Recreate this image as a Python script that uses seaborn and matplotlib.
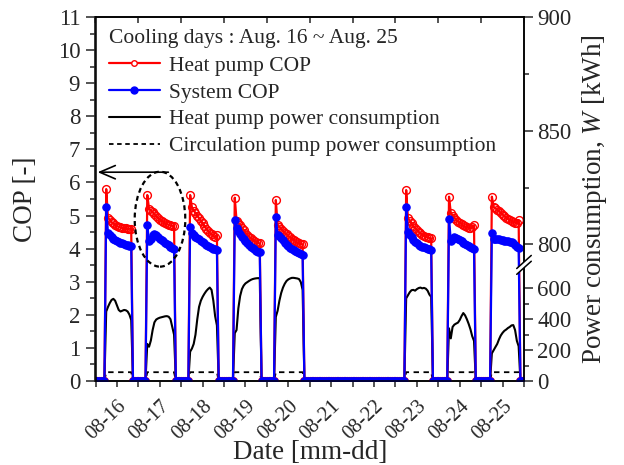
import numpy as np
import pandas as pd
import matplotlib
matplotlib.use("Agg")
import matplotlib.pyplot as plt
import matplotlib.transforms as mtransforms
from matplotlib.patches import Ellipse, Polygon
from matplotlib.lines import Line2D
import seaborn as sns

sns.set_style("ticks")
plt.rcParams["font.family"] = ["Liberation Serif", "DejaVu Serif"]
plt.rcParams["mathtext.fontset"] = "custom"
plt.rcParams["mathtext.rm"] = "Liberation Serif"
plt.rcParams["mathtext.it"] = "Liberation Serif:italic"

# ---------------------------------------------------------------- data
DATE_LABELS = ["08-16", "08-17", "08-18", "08-19", "08-20",
               "08-21", "08-22", "08-23", "08-24", "08-25"]

# operating days (offset from Aug. 16) and first logged hour of operation
OP_DAYS = [0, 1, 2, 3, 4, 7, 8, 9]
START_HOURS = [6, 5, 5, 6, 5, 6, 6, 6]

# hourly heat pump COP during operation
HP_COP = [
    [5.80, 4.92, 4.88, 4.80, 4.76, 4.72, 4.68, 4.66, 4.64, 4.62, 4.62, 4.61, 4.60, 4.60, 4.60],
    [5.62, 5.20, 5.15, 5.10, 5.04, 4.98, 4.93, 4.88, 4.84, 4.80, 4.77, 4.74, 4.72, 4.70, 4.69, 4.68],
    [5.62, 5.25, 5.15, 5.08, 5.00, 4.92, 4.84, 4.76, 4.68, 4.60, 4.54, 4.48, 4.43, 4.38, 4.36, 4.40],
    [5.54, 4.85, 4.78, 4.70, 4.62, 4.55, 4.48, 4.42, 4.36, 4.31, 4.27, 4.23, 4.20, 4.17, 4.16],
    [5.47, 4.72, 4.66, 4.60, 4.54, 4.48, 4.43, 4.38, 4.34, 4.30, 4.26, 4.22, 4.19, 4.16, 4.14, 4.13],
    [5.77, 4.92, 4.84, 4.76, 4.68, 4.62, 4.56, 4.51, 4.46, 4.42, 4.39, 4.36, 4.34, 4.32, 4.31],
    [5.57, 5.08, 5.00, 4.93, 4.87, 4.82, 4.78, 4.74, 4.70, 4.67, 4.64, 4.62, 4.62, 4.65, 4.70],
    [5.57, 5.26, 5.22, 5.18, 5.13, 5.08, 5.03, 4.98, 4.94, 4.90, 4.86, 4.83, 4.80, 4.78, 4.78, 4.86],
]

# hourly system COP during operation
SYS_COP = [
    [5.25, 4.46, 4.42, 4.36, 4.30, 4.25, 4.22, 4.20, 4.18, 4.16, 4.14, 4.12, 4.10, 4.09, 4.08],
    [4.72, 4.22, 4.30, 4.40, 4.44, 4.40, 4.35, 4.30, 4.26, 4.22, 4.18, 4.14, 4.10, 4.06, 4.02, 4.00],
    [4.66, 4.46, 4.40, 4.36, 4.32, 4.28, 4.24, 4.20, 4.16, 4.12, 4.09, 4.06, 4.03, 4.00, 3.98, 3.96],
    [4.86, 4.62, 4.52, 4.44, 4.36, 4.28, 4.22, 4.16, 4.11, 4.06, 4.02, 3.98, 3.94, 3.91, 3.89],
    [4.96, 4.42, 4.38, 4.32, 4.25, 4.18, 4.12, 4.07, 4.02, 3.98, 3.95, 3.92, 3.89, 3.86, 3.83, 3.81],
    [5.25, 4.50, 4.42, 4.34, 4.27, 4.21, 4.16, 4.12, 4.09, 4.06, 4.04, 4.02, 4.00, 3.98, 3.96],
    [4.91, 4.24, 4.30, 4.34, 4.33, 4.30, 4.26, 4.22, 4.18, 4.14, 4.10, 4.07, 4.04, 4.02, 4.00],
    [4.48, 4.30, 4.28, 4.30, 4.29, 4.27, 4.25, 4.24, 4.23, 4.22, 4.21, 4.20, 4.16, 4.10, 4.05, 4.01],
]

# hourly heat pump power consumption [kWh]
HP_POWER = [
    [450, 480, 505, 525, 532, 520, 490, 460, 450, 455, 460, 458, 450, 430, 395],
    [240, 222, 262, 330, 380, 398, 405, 410, 413, 416, 419, 420, 416, 400, 350, 300],
    [190, 210, 240, 300, 400, 480, 520, 545, 565, 582, 595, 605, 590, 520, 420, 360],
    [310, 330, 470, 550, 595, 618, 632, 640, 648, 655, 660, 663, 665, 666, 666],
    [415, 455, 520, 570, 605, 630, 648, 658, 664, 668, 668, 666, 664, 660, 640, 590],
    [535, 555, 575, 588, 590, 585, 595, 602, 605, 600, 603, 598, 585, 560, 545],
    [341, 276, 350, 365, 372, 378, 395, 420, 440, 425, 400, 370, 335, 290, 260],
    [179, 200, 220, 240, 270, 295, 312, 325, 333, 343, 350, 360, 362, 330, 260, 225],
]

# circulation pump power consumption while running [kWh]
CIRC_POWER = [57, 57, 57, 57, 57, 57, 57, 57]

LEGEND_TITLE = "Cooling days : Aug. 16 ~ Aug. 25"
SERIES_NAMES = ["Heat pump COP", "System COP",
                "Heat pump power consumption", "Circulation pump power consumption"]

N_HOURS = 240  # hourly log, Aug. 16 00:00 to Aug. 26 00:00


def hourly_log(values_per_day):
    """Hourly record over the whole period; zero while the plant is off."""
    log = np.zeros(N_HOURS + 1)
    for day, h0, vals in zip(OP_DAYS, START_HOURS, values_per_day):
        i0 = day * 24 + h0
        log[i0:i0 + len(vals)] = vals
    return log


df = pd.DataFrame({
    "t": np.arange(N_HOURS + 1) / 24.0,
    "hp_cop": hourly_log(HP_COP),
    "sys_cop": hourly_log(SYS_COP),
    "hp_power": hourly_log(HP_POWER),
    "circ_power": hourly_log([[c] * len(p) for c, p in zip(CIRC_POWER, HP_POWER)]),
})

# ---------------------------------------------------------------- figure
fig = plt.figure(figsize=(6.24, 4.65), dpi=100)
ax = fig.add_axes([95.5 / 624, 1 - 381 / 465, 428.5 / 624, 364 / 465])
ax2 = ax.twinx()
ax.set_zorder(ax2.get_zorder() + 1)
ax.patch.set_visible(False)

# power consumption on the right (broken) axis
sns.lineplot(data=df, x="t", y="hp_power", ax=ax2, color="black", lw=1.5,
             estimator=None, sort=False)
sns.lineplot(data=df, x="t", y="circ_power", ax=ax2, color="black", lw=1.3,
             ls=(0, (3, 2.5)), estimator=None, sort=False)

# COP on the left axis
sns.lineplot(data=df, x="t", y="hp_cop", ax=ax, color="red", lw=1.6,
             marker="o", ms=5.6, mfc="none", mec="red", mew=1.0,
             estimator=None, sort=False)
sns.lineplot(data=df, x="t", y="sys_cop", ax=ax, color="blue", lw=1.6,
             marker="o", ms=5.3, mfc="blue", mec="blue", mew=0.8,
             estimator=None, sort=False)

# left axis
ax.set_ylim(0, 11)
ax.set_yticks(np.arange(0, 12))
ax.set_yticks(np.arange(0.5, 11, 1), minor=True)
ax.set_ylabel("COP [-]", fontsize=19.5, labelpad=14)

# bottom axis
ax.set_xlim(0, 10)
ax.set_xticks(np.arange(0, 11))
ax.set_xticklabels(DATE_LABELS + [""])
ax.set_xticks(np.arange(0.5, 10, 1), minor=True)
ax.set_xlabel("Date [mm-dd]", fontsize=19.5, labelpad=-2)
ax.tick_params(axis="y", which="major", direction="out", length=7, width=1.1,
               labelsize=16.5, pad=4)
ax.tick_params(axis="y", which="minor", direction="out", length=4, width=1.1)
ax.tick_params(axis="x", which="both", direction="out", length=4.5, width=1.1,
               labelsize=14.8, pad=6.5)
shift = mtransforms.ScaledTranslation(11 / 100, 0, fig.dpi_scale_trans)
for lbl in ax.get_xticklabels():
    lbl.set_rotation(44)
    lbl.set_ha("center")
    lbl.set_transform(lbl.get_transform() + shift)

# daily ticks on the top edge, pointing inward
top = ax.secondary_xaxis("top")
top.set_xticks(np.arange(0, 11))
top.tick_params(direction="in", length=4.5, width=1.1, labeltop=False)

# right axis: linear 0-600 part below the break, 800-900 above it
BREAK_IN = [0, 700, 800, 900]
BREAK_OUT = [0, 700 / 600 * 2.8, 4.13, 11]


def _fwd(v):
    return np.interp(v, BREAK_IN, BREAK_OUT)


def _inv(c):
    return np.interp(c, BREAK_OUT, BREAK_IN)


ax2.set_yscale("function", functions=(_fwd, _inv))
ax2.set_ylim(0, 900)
ax2.set_yticks([0, 200, 400, 600, 800, 850, 900])
ax2.set_yticks([100, 300, 500, 825, 875], minor=True)
ax2.yaxis.set_major_formatter(matplotlib.ticker.FormatStrFormatter("%d"))
ax2.yaxis.set_minor_formatter(matplotlib.ticker.NullFormatter())
ax2.tick_params(axis="y", which="major", direction="out", length=6.5, width=1.1,
                labelsize=16.5, pad=3)
ax2.tick_params(axis="y", which="minor", direction="out", length=3.5, width=1.1)
ax2.set_ylabel("Power consumption, $\\mathit{W}$ [kWh]", fontsize=19.5, labelpad=6)

for a in (ax, ax2):
    for s in a.spines.values():
        s.set_linewidth(1.1)
        s.set_color("black")
top.spines["top"].set_linewidth(1.1)

# break marks on the right spine
brk_tf = ax.transAxes
yc, dx, dy, gap = 0.319, 0.017, 0.018, 0.008
ax.add_patch(Polygon([[1 - dx, yc - gap - dy], [1 + dx, yc - gap + dy],
                      [1 + dx, yc + gap + dy], [1 - dx, yc + gap - dy]],
                     closed=True, facecolor="white", edgecolor="none",
                     transform=brk_tf, clip_on=False, zorder=10))
for off in (-gap, gap):
    ax.add_line(Line2D([1 - dx, 1 + dx], [yc + off - dy, yc + off + dy],
                       color="black", lw=1.1, transform=brk_tf, clip_on=False,
                       zorder=11))

# highlighted day and arrow toward the COP axis
ax.add_patch(Ellipse((1.505, 4.89), 1.18, 2.87, fill=False, ec="black",
                     lw=1.6, ls=(0, (2.2, 1.6)), zorder=5))
ax.annotate("", xy=(0.05, 6.31), xytext=(1.70, 6.31),
            arrowprops=dict(arrowstyle="->,head_length=0.7,head_width=0.3",
                            lw=1.2, color="black", shrinkA=0, shrinkB=0,
                            mutation_scale=16), zorder=5)

# legend with its heading
ax.text(0.0315, 0.942, LEGEND_TITLE, transform=ax.transAxes, fontsize=15.5,
        ha="left", va="center", zorder=20)
handles = [
    Line2D([], [], color="red", lw=1.6, marker="o", ms=4, mfc="white", mec="red", mew=1),
    Line2D([], [], color="blue", lw=1.6, marker="o", ms=5, mfc="blue", mec="blue"),
    Line2D([], [], color="black", lw=1.5),
    Line2D([], [], color="black", lw=1.3, ls=(0, (2.5, 2))),
]
leg = ax.legend(handles, SERIES_NAMES, loc="upper left",
                bbox_to_anchor=(0.0163, 0.911), borderaxespad=0, borderpad=0.3,
                frameon=False, fontsize=15.5, handlelength=2.35,
                handletextpad=0.45, labelspacing=0.31)
leg.set_zorder(20)

fig.savefig("out.png", dpi=100, facecolor="white")
